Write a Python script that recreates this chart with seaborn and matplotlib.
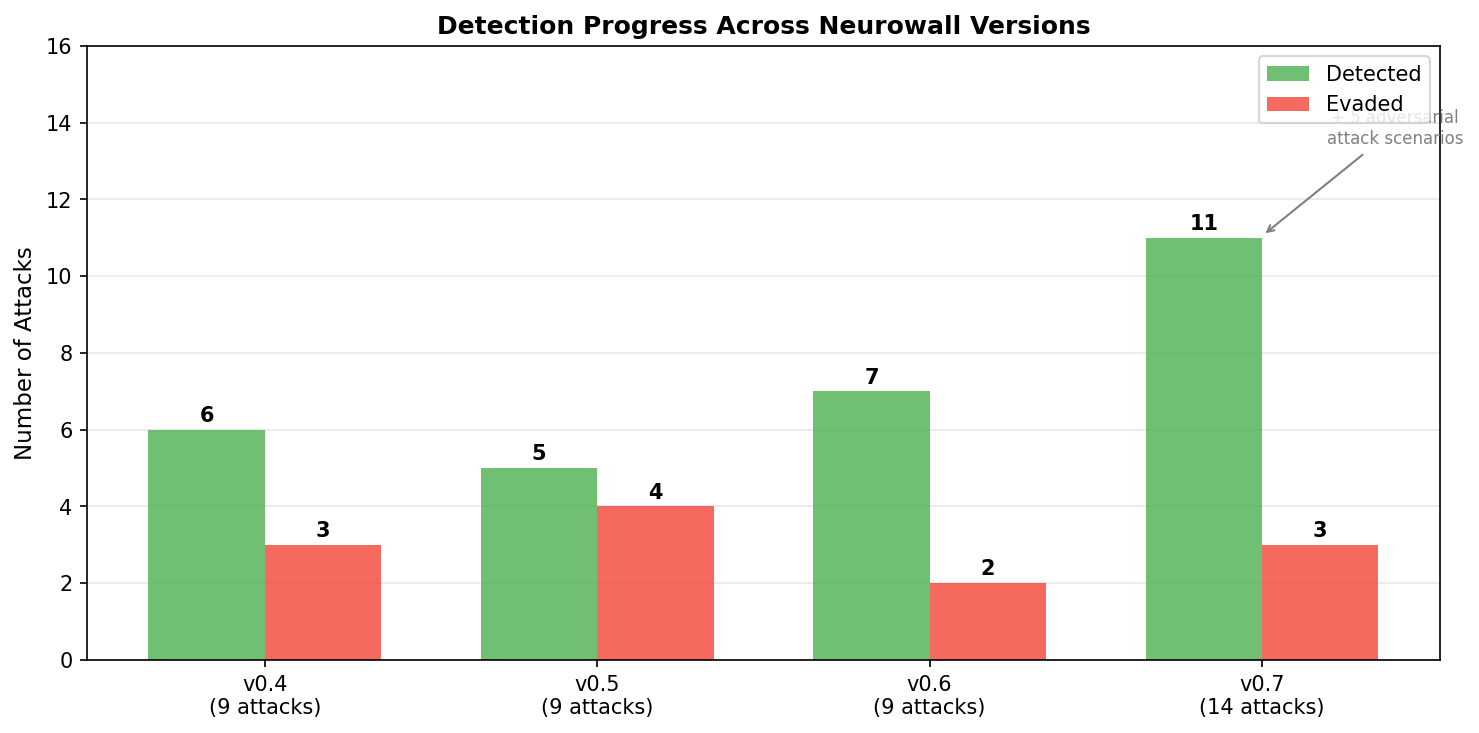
import pandas as pd
import matplotlib
matplotlib.use("Agg")
import matplotlib.pyplot as plt
import seaborn as sns

versions = ["v0.4\n(9 attacks)", "v0.5\n(9 attacks)", "v0.6\n(9 attacks)", "v0.7\n(14 attacks)"]
detected = [6, 5, 7, 11]
evaded = [3, 4, 2, 3]

df = pd.DataFrame({
    "version": versions * 2,
    "count": detected + evaded,
    "outcome": ["Detected"] * len(versions) + ["Evaded"] * len(versions),
})

plt.rcParams['font.family'] = ['DejaVu Sans']

fig = plt.figure(figsize=(9.86, 4.887), dpi=150)
ax = fig.add_axes([0.0588, 0.0996, 0.9148, 0.8376])

sns.barplot(data=df, x="version", y="count", hue="outcome",
            palette={"Detected": "#4CAF50", "Evaded": "#F44336"},
            alpha=0.8, width=0.7, gap=0, saturation=1, linewidth=0, ax=ax)

# value labels
for cont in ax.containers:
    for bar in cont:
        h = bar.get_height()
        ax.text(bar.get_x() + bar.get_width() / 2, h + 0.1, f"{int(h)}",
                ha='center', va='bottom', fontsize=10, fontweight='bold')

ax.set_xlim(-0.535, 3.535)
ax.set_ylim(0, 16)
ax.set_xlabel("")
ax.set_ylabel("Number of Attacks", fontsize=11)
ax.set_title("Detection Progress Across Neurowall Versions", fontsize=12, fontweight='bold')
ax.tick_params(axis='both', labelsize=10)
ax.grid(axis='y', alpha=0.3)
ax.set_axisbelow(True)

ax.annotate("+ 5 adversarial\nattack scenarios", xy=(3, 11.05), xytext=(3.4, 13.85),
            ha='center', va='center', fontsize=8, color='gray',
            arrowprops=dict(arrowstyle='->', color='gray'))

ax.legend(loc='upper right', fontsize=10, title=None)

fig.savefig("out.png", dpi=150)
